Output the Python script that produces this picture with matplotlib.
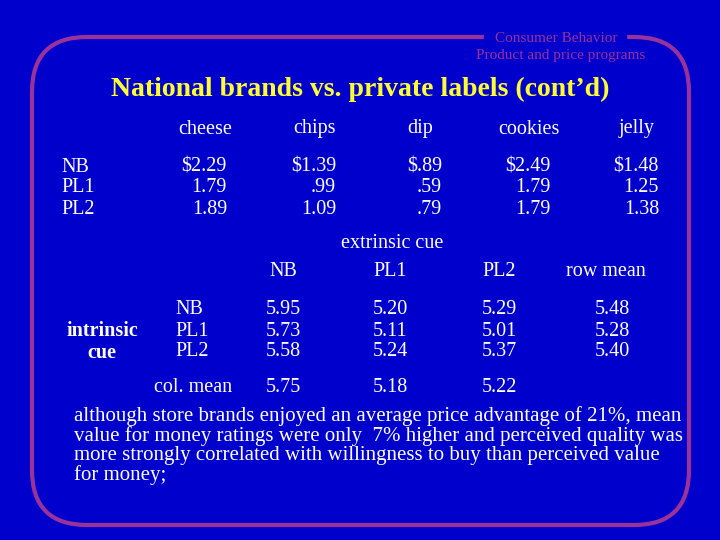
import matplotlib
matplotlib.use("Agg")
import matplotlib.pyplot as plt
from matplotlib.patches import FancyBboxPatch

products = ["cheese", "chips", "dip", "cookies", "jelly"]
brands = ["NB", "PL1", "PL2"]
prices = [["$2.29", "$1.39", "$.89", "$2.49", "$1.48"],
          ["1.79", ".99", ".59", "1.79", "1.25"],
          ["1.89", "1.09", ".79", "1.79", "1.38"]]
cue_cols = ["NB", "PL1", "PL2", "row mean"]
ratings = [["5.95", "5.20", "5.29", "5.48"],
           ["5.73", "5.11", "5.01", "5.28"],
           ["5.58", "5.24", "5.37", "5.40"]]
col_means = ["5.75", "5.18", "5.22"]
note = ("although store brands enjoyed an average price advantage of 21%, mean\n"
        "value for money ratings were only  7% higher and perceived quality was\n"
        "more strongly correlated with willingness to buy than perceived value\n"
        "for money;")

plt.rcParams['font.family'] = ['Liberation Serif', 'DejaVu Serif']
fig = plt.figure(figsize=(7.2, 5.4), dpi=100)
fig.patch.set_facecolor('#0000CC')
ax = fig.add_axes([0, 0, 1, 1])
ax.set_xlim(0, 720); ax.set_ylim(540, 0); ax.axis('off')
ax.set_facecolor('#0000CC')

BC = '#993399'
ax.add_patch(FancyBboxPatch((32, 37), 657, 488, boxstyle="round,pad=0,rounding_size=55",
                            fill=False, ec=BC, lw=3))
ax.add_patch(plt.Rectangle((484, 28), 142, 34, color='#0000CC', zorder=2))
ax.text(556, 38, "Consumer Behavior", color=BC, fontsize=11, ha='center', va='center', zorder=3)
ax.text(561, 56, "Product and price programs", color=BC, fontsize=11, ha='center', va='center', zorder=3)
ax.text(360, 89, "National brands vs. private labels (cont\u2019d)", color='#FFFF33', fontsize=20,
        fontweight='bold', ha='center', va='center')

W = 'white'; fs = 14.5
px = [205, 314, 420, 529, 637]
for x, p in zip(px, products):
    ax.text(x, 129, p, color=W, fontsize=fs, ha='center', va='center')
for i, b in enumerate(brands):
    ax.text(61, 167 + 21 * i, b, color=W, fontsize=fs, ha='left', va='center')
    for x, v in zip(px, prices[i]):
        ax.text(x + 22, 167 + 21 * i, v, color=W, fontsize=fs, ha='right', va='center')

ax.text(392, 243, "extrinsic cue", color=W, fontsize=fs, ha='center', va='center')
cx = [283, 390, 499, 606]
for x, c in zip(cx, cue_cols):
    ax.text(x, 271, c, color=W, fontsize=fs, ha='center', va='center')
ax.text(102, 331, "intrinsic", color=W, fontsize=fs, fontweight='bold', ha='center', va='center')
ax.text(102, 353, "cue", color=W, fontsize=fs, fontweight='bold', ha='center', va='center')
vx = [283, 390, 499, 612]
for i, b in enumerate(brands):
    y = 310 + 21 * i
    ax.text(175, y, b, color=W, fontsize=fs, ha='left', va='center')
    for x, v in zip(vx, ratings[i]):
        ax.text(x, y, v, color=W, fontsize=fs, ha='center', va='center')
ax.text(193, 387, "col. mean", color=W, fontsize=fs, ha='center', va='center')
for x, v in zip(vx, col_means):
    ax.text(x, 387, v, color=W, fontsize=fs, ha='center', va='center')
ax.text(74, 406, note, color=W, fontsize=15, ha='left', va='top', linespacing=1.0)

fig.savefig("out.png", dpi=100, facecolor=fig.get_facecolor())
